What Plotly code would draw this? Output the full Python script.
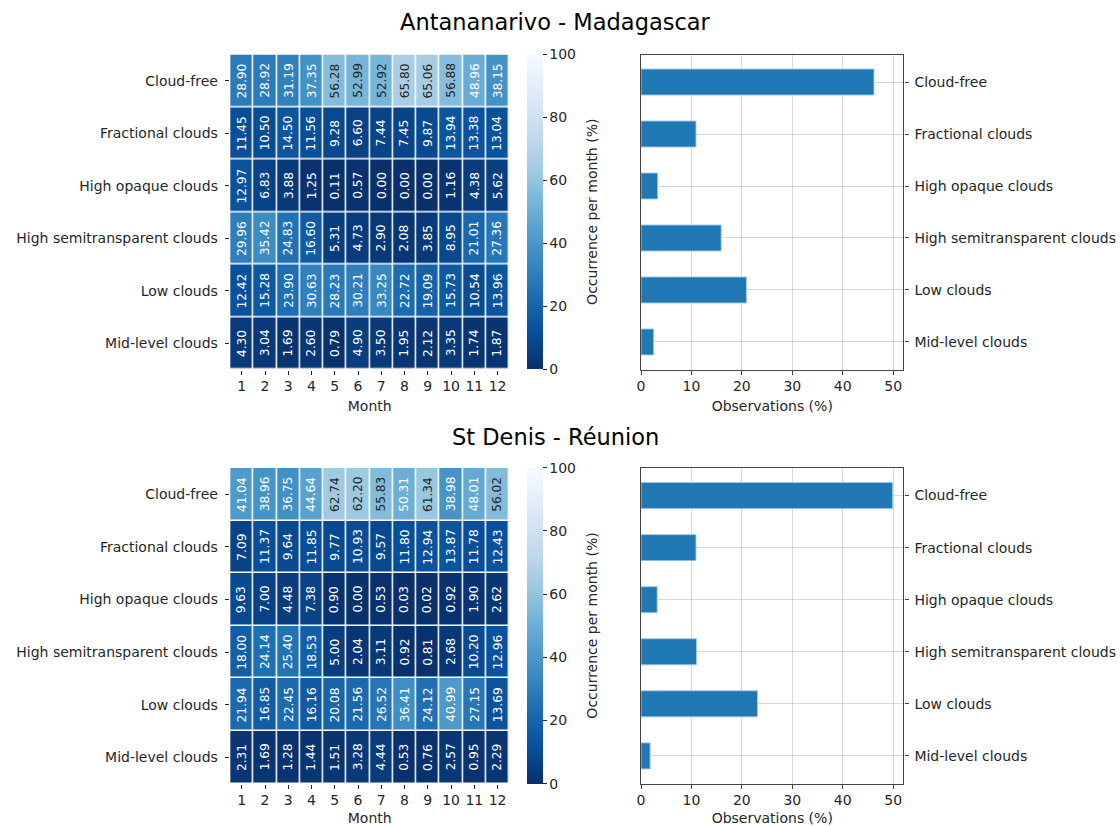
import plotly.graph_objects as go
import plotly.express as px

# ---- data -------------------------------------------------------------
months = list(range(1, 13))
cloud_types = [
    "Cloud-free",
    "Fractional clouds",
    "High opaque clouds",
    "High semitransparent clouds",
    "Low clouds",
    "Mid-level clouds",
]

site_names = ["Antananarivo - Madagascar", "St Denis - Réunion"]

# monthly occurrence (%) per cloud type, Antananarivo
tana_cloud_free = [28.90, 28.92, 31.19, 37.35, 56.28, 52.99, 52.92, 65.80, 65.06, 56.88, 48.96, 38.15]
tana_fractional = [11.45, 10.50, 14.50, 11.56, 9.28, 6.60, 7.44, 7.45, 9.87, 13.94, 13.38, 13.04]
tana_high_opaque = [12.97, 6.83, 3.88, 1.25, 0.11, 0.57, 0.00, 0.00, 0.00, 1.16, 4.38, 5.62]
tana_high_semi = [29.96, 35.42, 24.83, 16.60, 5.31, 4.73, 2.90, 2.08, 3.85, 8.95, 21.01, 27.36]
tana_low = [12.42, 15.28, 23.90, 30.63, 28.23, 30.21, 33.25, 22.72, 19.09, 15.73, 10.54, 13.96]
tana_mid = [4.30, 3.04, 1.69, 2.60, 0.79, 4.90, 3.50, 1.95, 2.12, 3.35, 1.74, 1.87]

# monthly occurrence (%) per cloud type, St Denis
stdenis_cloud_free = [41.04, 38.96, 36.75, 44.64, 62.74, 62.20, 55.83, 50.31, 61.34, 38.98, 48.01, 56.02]
stdenis_fractional = [7.09, 11.37, 9.64, 11.85, 9.77, 10.93, 9.57, 11.80, 12.94, 13.87, 11.78, 12.43]
stdenis_high_opaque = [9.63, 7.00, 4.48, 7.38, 0.90, 0.00, 0.53, 0.03, 0.02, 0.92, 1.90, 2.62]
stdenis_high_semi = [18.00, 24.14, 25.40, 18.53, 5.00, 2.04, 3.11, 0.92, 0.81, 2.68, 10.20, 12.96]
stdenis_low = [21.94, 16.85, 22.45, 16.16, 20.08, 21.56, 26.52, 36.41, 24.12, 40.99, 27.15, 13.69]
stdenis_mid = [2.31, 1.69, 1.28, 1.44, 1.51, 3.28, 4.44, 0.53, 0.76, 2.57, 0.95, 2.29]

# overall share of observations (%) per cloud type
tana_totals = [46.2, 10.9, 3.3, 15.9, 20.9, 2.5]
stdenis_totals = [49.9, 10.9, 3.2, 11.0, 23.1, 1.8]

tana_matrix = [tana_cloud_free, tana_fractional, tana_high_opaque,
               tana_high_semi, tana_low, tana_mid]
stdenis_matrix = [stdenis_cloud_free, stdenis_fractional, stdenis_high_opaque,
                  stdenis_high_semi, stdenis_low, stdenis_mid]

# ---- layout helpers (pixel geometry -> paper fractions) ---------------
W, H = 1120, 826
FONT = "DejaVu Sans"
TXT = "#262626"


def px_x(v):
    return v / W


def px_y(v):
    return 1 - v / H


panels = [
    dict(name=site_names[0], matrix=tana_matrix, totals=tana_totals,
         top=54.5, bottom=369.5, title_y=22),
    dict(name=site_names[1], matrix=stdenis_matrix, totals=stdenis_totals,
         top=468.0, bottom=783.5, title_y=437),
]

HM_LEFT, HM_RIGHT = 227, 507
BAR_LEFT, BAR_RIGHT = 639.3, 902.7
CB_LEFT = 525
CB_TITLE_X = 590

blues_r = px.colors.sequential.Blues_r

fig = go.Figure()
annotations = []
layout_axes = {}

for i, p in enumerate(panels):
    hx = "x" if i == 0 else f"x{2 * i + 1}"
    hy = "y" if i == 0 else f"y{2 * i + 1}"
    bx = f"x{2 * i + 2}"
    by = f"y{2 * i + 2}"
    ydom = [px_y(p["bottom"]), px_y(p["top"])]
    ymid = (ydom[0] + ydom[1]) / 2

    fig.add_trace(go.Heatmap(
        z=p["matrix"], x=months, y=cloud_types,
        xaxis=hx, yaxis=hy,
        colorscale=blues_r, zmin=0, zmax=100,
        xgap=1.5, ygap=1.5,
        hoverongaps=False,
        colorbar=dict(
            x=px_x(CB_LEFT), xanchor="left", xpad=0,
            y=ymid, yanchor="middle", ypad=0,
            len=p["bottom"] - p["top"], lenmode="pixels",
            thickness=16, outlinewidth=0,
            tickvals=[0, 20, 40, 60, 80, 100],
            ticks="outside", ticklen=4, tickcolor=TXT,
            tickfont=dict(family=FONT, size=14, color=TXT),
        ),
    ))

    # colour bar label, vertical
    annotations.append(dict(
        x=px_x(CB_TITLE_X), y=ymid, xref="paper", yref="paper",
        text="Occurrence per month (%)", textangle=-90, showarrow=False,
        xanchor="center", yanchor="middle",
        font=dict(family=FONT, size=14, color=TXT),
    ))

    # per-cell values, written vertically
    for r, ctype in enumerate(cloud_types):
        for c, m in enumerate(months):
            v = p["matrix"][r][c]
            annotations.append(dict(
                x=m, y=ctype, xref=hx, yref=hy,
                text=f"{v:.2f}", textangle=-90, showarrow=False,
                font=dict(family=FONT, size=12.2,
                          color=TXT if v > 51 else "white"),
            ))

    fig.add_trace(go.Bar(
        x=p["totals"], y=cloud_types, orientation="h",
        xaxis=bx, yaxis=by, width=0.5,
        marker=dict(color="#1f77b4",
                    line=dict(color="rgba(160,200,235,0.9)", width=1)),
        showlegend=False,
    ))

    ax_font = dict(family=FONT, size=14, color=TXT)
    layout_axes["xaxis" if i == 0 else f"xaxis{2 * i + 1}"] = dict(
        domain=[px_x(HM_LEFT), px_x(HM_RIGHT)], anchor=hy,
        range=[0.5, 12.5], tickvals=months, ticks="outside", ticklen=4,
        tickcolor=TXT, tickfont=ax_font, showgrid=False, zeroline=False,
        showline=False, title=dict(text="Month", font=ax_font, standoff=7),
    )
    layout_axes["yaxis" if i == 0 else f"yaxis{2 * i + 1}"] = dict(
        domain=ydom, anchor=hx, autorange="reversed",
        ticks="outside", ticklen=4, tickcolor=TXT, tickfont=ax_font,
        showgrid=False, zeroline=False, showline=False, ticksuffix=" ",
    )
    layout_axes[f"xaxis{2 * i + 2}"] = dict(
        domain=[px_x(BAR_LEFT), px_x(BAR_RIGHT)], anchor=by,
        range=[0, 52.05], tickvals=[0, 10, 20, 30, 40, 50],
        ticks="outside", ticklen=4, tickcolor="#444", tickfont=ax_font,
        showgrid=True, gridcolor="rgba(180,180,180,0.5)", gridwidth=1,
        zeroline=False, showline=True, linecolor="#444", linewidth=1.2,
        mirror=True, layer="above traces",
        title=dict(text="Observations (%)", font=ax_font, standoff=7),
    )
    layout_axes[f"yaxis{2 * i + 2}"] = dict(
        domain=ydom, anchor=bx, side="right",
        categoryorder="array", categoryarray=cloud_types,
        range=[5.53, -0.53],
        ticks="outside", ticklen=4, tickcolor="#444", tickfont=ax_font,
        ticklabelstandoff=3,
        showgrid=True, gridcolor="rgba(180,180,180,0.5)", gridwidth=1,
        zeroline=False, showline=True, linecolor="#444", linewidth=1.2,
        mirror=True, layer="above traces",
    )

    annotations.append(dict(
        x=px_x(553), y=px_y(p["title_y"]), xref="paper", yref="paper",
        text=p["name"], showarrow=False, xanchor="center", yanchor="middle",
        font=dict(family=FONT, size=22.5, color="black"),
    ))

fig.update_layout(
    width=W, height=H,
    margin=dict(l=0, r=0, t=0, b=0),
    paper_bgcolor="white", plot_bgcolor="white",
    font=dict(family=FONT, color=TXT),
    annotations=annotations,
    showlegend=False,
    **layout_axes,
)

fig.write_html("out.html")
